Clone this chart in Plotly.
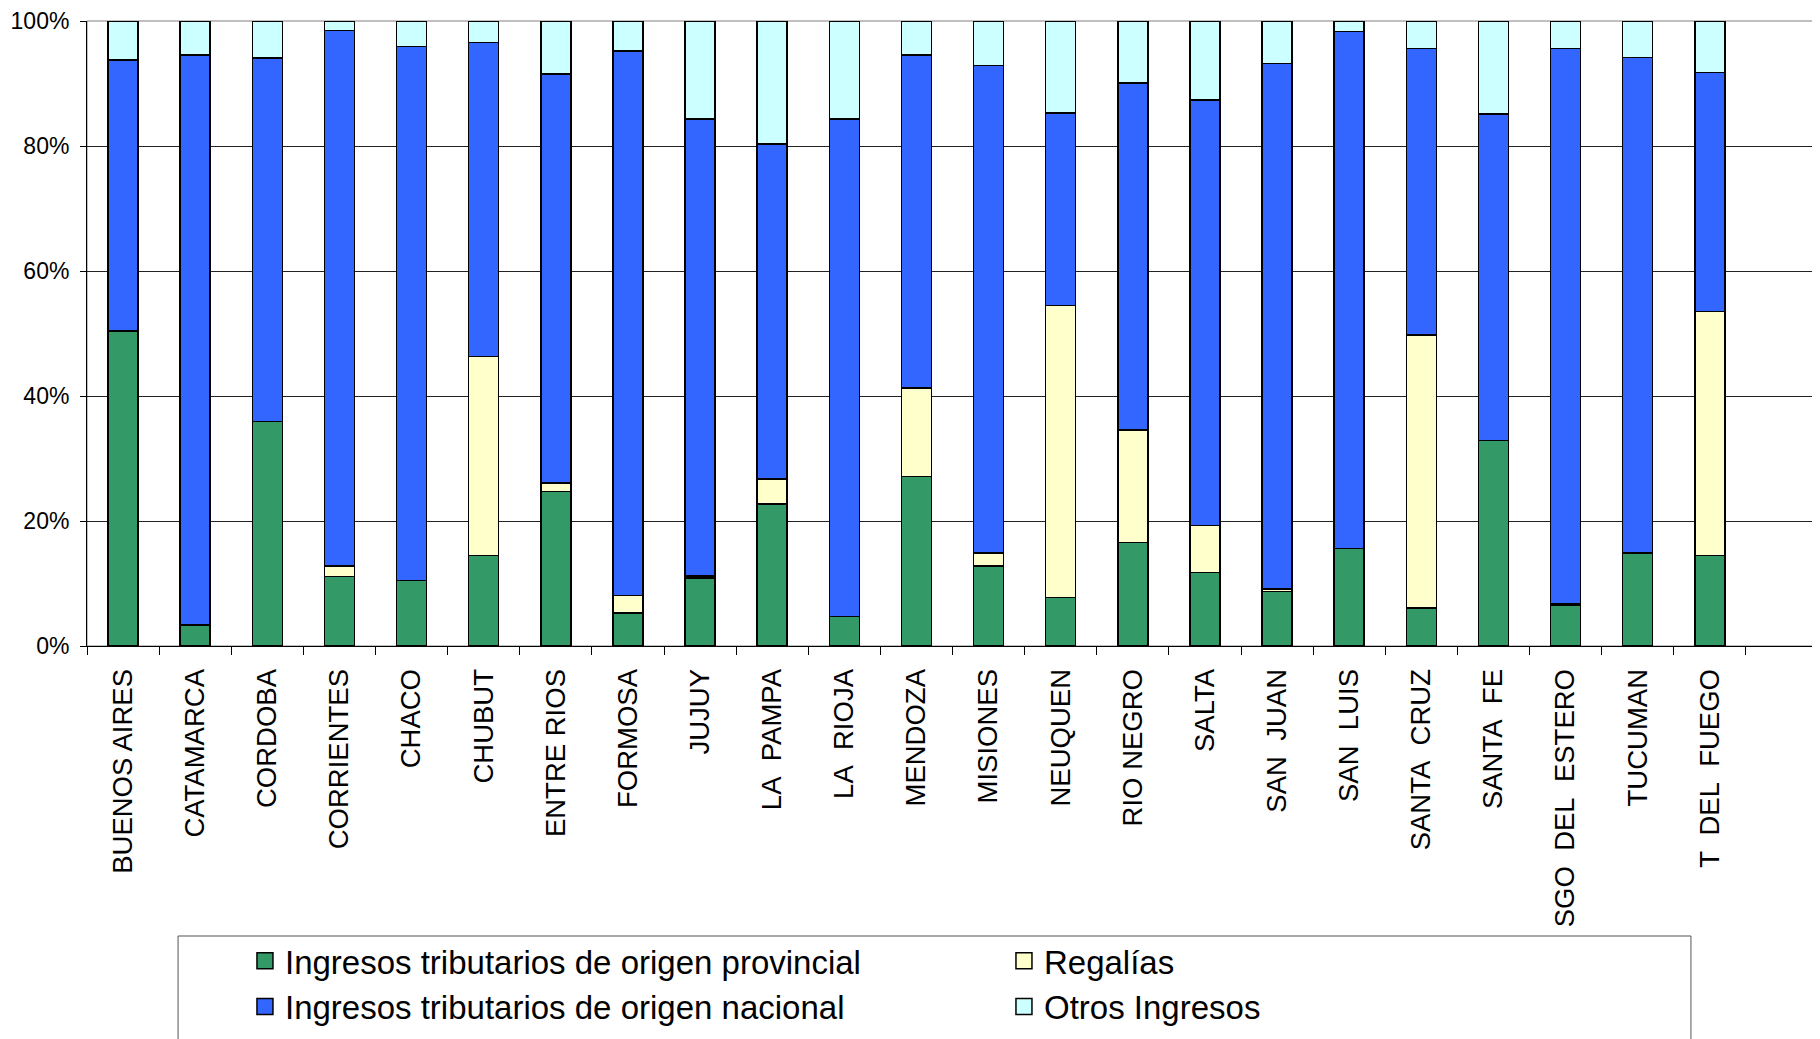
import plotly.graph_objects as go

# Provinces (x axis categories)
provincias = [
    'BUENOS AIRES', 'CATAMARCA', 'CORDOBA', 'CORRIENTES', 'CHACO', 'CHUBUT',
    'ENTRE RIOS', 'FORMOSA', 'JUJUY', 'LA\u00a0\u00a0PAMPA', 'LA\u00a0\u00a0RIOJA',
    'MENDOZA', 'MISIONES', 'NEUQUEN', 'RIO NEGRO', 'SALTA', 'SAN\u00a0\u00a0JUAN',
    'SAN\u00a0\u00a0LUIS', 'SANTA\u00a0\u00a0CRUZ', 'SANTA\u00a0\u00a0FE',
    'SGO\u00a0\u00a0DEL\u00a0\u00a0ESTERO', 'TUCUMAN', 'T\u00a0\u00a0DEL\u00a0\u00a0FUEGO',
]

# Share of total revenue (%) per province
provincial = [50.4, 3.4, 35.9, 11.1, 10.5, 14.5, 24.7, 5.3, 10.9, 22.7, 4.7, 27.1,
              12.8, 7.8, 16.6, 11.8, 8.7, 15.6, 6.1, 32.9, 6.5, 14.9, 14.5]
regalias = [0.0, 0.0, 0.0, 1.7, 0.0, 31.8, 1.4, 2.8, 0.3, 4.0, 0.0, 14.2,
            2.1, 46.7, 18.0, 7.5, 0.4, 0.0, 43.7, 0.0, 0.2, 0.0, 39.0]
nacional = [43.4, 91.2, 58.2, 85.7, 85.4, 50.3, 65.4, 87.1, 73.1, 53.6, 79.6, 53.3,
            78.0, 30.8, 55.5, 68.1, 84.1, 82.7, 45.8, 52.2, 88.9, 79.3, 38.3]
otros = [6.2, 5.4, 5.9, 1.5, 4.1, 3.4, 8.5, 4.8, 15.7, 19.7, 15.7, 5.4,
         7.1, 14.7, 9.9, 12.6, 6.8, 1.7, 4.4, 14.9, 4.4, 5.8, 8.2]

COLORS = {
    'provincial': '#339966',
    'regalias': '#FFFFCC',
    'nacional': '#3366FF',
    'otros': '#CCFFFF',
}

FONT = 'Liberation Sans, Arial, sans-serif'

series = [
    ('Ingresos tributarios de origen provincial', provincial, COLORS['provincial']),
    ('Regalías', regalias, COLORS['regalias']),
    ('Ingresos tributarios de origen nacional', nacional, COLORS['nacional']),
    ('Otros Ingresos', otros, COLORS['otros']),
]

fig = go.Figure()

for name, values, color in series:
    fig.add_trace(go.Bar(
        x=provincias,
        y=values,
        name=name,
        showlegend=False,
        marker=dict(color=color, line=dict(color='black', width=1.5)),
    ))

# legend-only entries so the swatches can be larger than the bar default
for name, values, color in series:
    fig.add_trace(go.Scatter(
        x=[None],
        y=[None],
        mode='markers',
        name=name,
        marker=dict(symbol='square', size=20, color=color,
                    line=dict(color='black', width=1.5)),
    ))

# page body adds an 8px offset, margins compensate for it
fig.update_layout(
    barmode='stack',
    barnorm='percent',
    bargap=0.585,
    width=1820,
    height=1039,
    margin=dict(l=79, r=10, t=13, b=401, autoexpand=False),
    plot_bgcolor='white',
    paper_bgcolor='white',
    font=dict(family=FONT, color='black'),
    legend=dict(
        orientation='h',
        traceorder='normal',
        xref='container',
        yref='container',
        x=0.1302,
        xanchor='left',
        y=0.110,
        yanchor='top',
        entrywidth=714,
        font=dict(size=33, family=FONT),
        bgcolor='rgba(0,0,0,0)',
    ),
    shapes=[
        # plot area frame
        dict(type='rect', xref='paper', yref='paper', x0=0, x1=1, y0=0, y1=1,
             line=dict(color='#808080', width=1), layer='below'),
        # legend frame
        dict(type='rect', xref='paper', yref='paper', x0=0.0526, x1=0.9266,
             y0=-0.464, y1=-0.7, line=dict(color='#555555', width=1)),
    ],
)

fig.update_xaxes(
    range=[-0.5, 23.5],
    automargin=False,
    tickangle=-90,
    tickfont=dict(size=27.5),
    ticks='outside',
    tickson='boundaries',
    ticklen=8,
    tickcolor='black',
    showline=True,
    linecolor='black',
    linewidth=1,
    showgrid=False,
    ticklabelstandoff=11,
)

fig.update_yaxes(
    range=[0, 100],
    automargin=False,
    dtick=20,
    ticksuffix='%',
    tickfont=dict(size=23),
    ticks='outside',
    ticklen=6,
    tickcolor='black',
    ticklabelstandoff=6,
    showline=True,
    linecolor='black',
    linewidth=1,
    showgrid=True,
    gridcolor='#222222',
    gridwidth=1,
    zeroline=False,
)

fig.write_html('out.html')
